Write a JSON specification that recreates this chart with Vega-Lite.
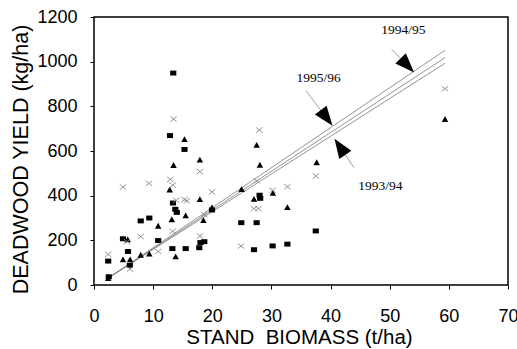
{
  "$schema": "https://vega.github.io/schema/vega-lite/v6.json",
  "autosize": "none",
  "padding": {"left": 94, "top": 17, "right": 9, "bottom": 64},
  "width": 414,
  "height": 268,
  "background": "white",
  "config": {
    "view": {"stroke": "black", "strokeWidth": 1.5},
    "axis": {"grid": false, "domain": false, "tickColor": "black", "labelColor": "black", "titleColor": "black", "labelFont": "Liberation Sans", "titleFont": "Liberation Sans", "titleFontWeight": "normal"}
  },
  "datasets": {
    "points": [
      {"season": "1993/94", "biomass": 2.4, "yield": 107},
      {"season": "1993/94", "biomass": 2.5, "yield": 37},
      {"season": "1993/94", "biomass": 4.9, "yield": 207},
      {"season": "1993/94", "biomass": 5.75, "yield": 150},
      {"season": "1993/94", "biomass": 6.05, "yield": 88},
      {"season": "1993/94", "biomass": 7.9, "yield": 287},
      {"season": "1993/94", "biomass": 9.35, "yield": 300},
      {"season": "1993/94", "biomass": 10.85, "yield": 199},
      {"season": "1993/94", "biomass": 13.4, "yield": 949},
      {"season": "1993/94", "biomass": 12.85, "yield": 669},
      {"season": "1993/94", "biomass": 15.3, "yield": 607},
      {"season": "1993/94", "biomass": 13.35, "yield": 367},
      {"season": "1993/94", "biomass": 13.75, "yield": 339},
      {"season": "1993/94", "biomass": 14.0, "yield": 325},
      {"season": "1993/94", "biomass": 13.25, "yield": 163},
      {"season": "1993/94", "biomass": 15.5, "yield": 163},
      {"season": "1993/94", "biomass": 17.8, "yield": 167},
      {"season": "1993/94", "biomass": 18.0, "yield": 190},
      {"season": "1993/94", "biomass": 18.65, "yield": 194},
      {"season": "1993/94", "biomass": 19.95, "yield": 336},
      {"season": "1993/94", "biomass": 24.9, "yield": 279},
      {"season": "1993/94", "biomass": 27.5, "yield": 279},
      {"season": "1993/94", "biomass": 27.05, "yield": 158},
      {"season": "1993/94", "biomass": 28.0, "yield": 402},
      {"season": "1993/94", "biomass": 28.1, "yield": 388},
      {"season": "1993/94", "biomass": 30.2, "yield": 175},
      {"season": "1993/94", "biomass": 32.7, "yield": 183},
      {"season": "1993/94", "biomass": 37.5, "yield": 242},
      {"season": "1994/95", "biomass": 2.4, "yield": 30},
      {"season": "1994/95", "biomass": 4.9, "yield": 113},
      {"season": "1994/95", "biomass": 5.7, "yield": 203},
      {"season": "1994/95", "biomass": 6.1, "yield": 113},
      {"season": "1994/95", "biomass": 7.9, "yield": 134},
      {"season": "1994/95", "biomass": 9.35, "yield": 139},
      {"season": "1994/95", "biomass": 10.85, "yield": 264},
      {"season": "1994/95", "biomass": 12.8, "yield": 426},
      {"season": "1994/95", "biomass": 13.45, "yield": 536},
      {"season": "1994/95", "biomass": 15.3, "yield": 652},
      {"season": "1994/95", "biomass": 13.15, "yield": 293},
      {"season": "1994/95", "biomass": 13.8, "yield": 127},
      {"season": "1994/95", "biomass": 15.5, "yield": 310},
      {"season": "1994/95", "biomass": 17.9, "yield": 560},
      {"season": "1994/95", "biomass": 17.9, "yield": 383},
      {"season": "1994/95", "biomass": 18.5, "yield": 289},
      {"season": "1994/95", "biomass": 19.95, "yield": 346},
      {"season": "1994/95", "biomass": 24.95, "yield": 428},
      {"season": "1994/95", "biomass": 27.5, "yield": 626},
      {"season": "1994/95", "biomass": 28.05, "yield": 537},
      {"season": "1994/95", "biomass": 27.05, "yield": 384},
      {"season": "1994/95", "biomass": 30.25, "yield": 411},
      {"season": "1994/95", "biomass": 32.7, "yield": 347},
      {"season": "1994/95", "biomass": 37.65, "yield": 548},
      {"season": "1994/95", "biomass": 59.35, "yield": 742},
      {"season": "1995/96", "biomass": 2.4, "yield": 137},
      {"season": "1995/96", "biomass": 4.9, "yield": 439},
      {"season": "1995/96", "biomass": 5.6, "yield": 194},
      {"season": "1995/96", "biomass": 6.1, "yield": 71},
      {"season": "1995/96", "biomass": 7.9, "yield": 217},
      {"season": "1995/96", "biomass": 9.3, "yield": 455},
      {"season": "1995/96", "biomass": 10.85, "yield": 150},
      {"season": "1995/96", "biomass": 13.45, "yield": 743},
      {"season": "1995/96", "biomass": 12.9, "yield": 473},
      {"season": "1995/96", "biomass": 13.3, "yield": 447},
      {"season": "1995/96", "biomass": 13.3, "yield": 240},
      {"season": "1995/96", "biomass": 13.9, "yield": 379},
      {"season": "1995/96", "biomass": 15.3, "yield": 382},
      {"season": "1995/96", "biomass": 15.7, "yield": 377},
      {"season": "1995/96", "biomass": 17.9, "yield": 508},
      {"season": "1995/96", "biomass": 17.9, "yield": 220},
      {"season": "1995/96", "biomass": 18.6, "yield": 316},
      {"season": "1995/96", "biomass": 19.95, "yield": 417},
      {"season": "1995/96", "biomass": 24.85, "yield": 174},
      {"season": "1995/96", "biomass": 27.05, "yield": 342},
      {"season": "1995/96", "biomass": 27.8, "yield": 342},
      {"season": "1995/96", "biomass": 27.5, "yield": 466},
      {"season": "1995/96", "biomass": 27.95, "yield": 694},
      {"season": "1995/96", "biomass": 30.2, "yield": 424},
      {"season": "1995/96", "biomass": 32.7, "yield": 440},
      {"season": "1995/96", "biomass": 37.5, "yield": 488},
      {"season": "1995/96", "biomass": 59.35, "yield": 879}
    ],
    "fits": [
      {"season": "1994/95", "biomass": 2.4, "yield": 31},
      {"season": "1994/95", "biomass": 59.35, "yield": 1051},
      {"season": "1995/96", "biomass": 2.4, "yield": 31},
      {"season": "1995/96", "biomass": 59.35, "yield": 1018},
      {"season": "1993/94", "biomass": 2.4, "yield": 31},
      {"season": "1993/94", "biomass": 59.35, "yield": 993}
    ],
    "arrows": [
      {"label": "1994/95", "fromX": 50.34, "fromY": 1055, "baseX": 51.81, "baseY": 1015, "headX": 52.98, "headY": 983, "textX": 52.3, "textY": 1140},
      {"label": "1995/96", "fromX": 35.85, "fromY": 869, "baseX": 38.32, "baseY": 783, "headX": 39.33, "headY": 748, "textX": 38.0, "textY": 928},
      {"label": "1993/94", "fromX": 43.96, "fromY": 525, "baseX": 42.53, "baseY": 582, "headX": 41.58, "headY": 619, "textX": 48.44, "textY": 445}
    ]
  },
  "layer": [
    {
      "data": {"name": "fits"},
      "mark": {"type": "line", "stroke": "#777777", "strokeWidth": 0.8},
      "encoding": {
        "x": {"field": "biomass", "type": "quantitative", "scale": {"domain": [0, 70], "nice": false, "zero": false},
          "axis": {"values": [0, 5, 10, 15, 20, 25, 30, 35, 40, 45, 50, 55, 60, 65, 70], "format": "d", "labelExpr": "datum.value % 10 == 0 ? datum.label : ''", "tickSize": 4, "labelPadding": 18, "labelDx": -5, "labelFontSize": 18, "labelBaseline": "top",
            "title": "STAND\u00a0 BIOMASS (t/ha)", "titleFontSize": 20.5, "titleX": 205, "titleY": 58, "titleBaseline": "alphabetic", "titleAnchor": "middle", "labelFlush": false, "labelOverlap": false}},
        "y": {"field": "yield", "type": "quantitative", "scale": {"domain": [0, 1200], "nice": false, "zero": false},
          "axis": {"values": [0, 200, 400, 600, 800, 1000, 1200], "format": "d", "tickSize": 4, "labelPadding": 13, "labelFontSize": 18, "labelFlush": false, "labelOverlap": false,
            "title": "DEADWOOD YIELD (kg/ha)", "titleFontSize": 21.5, "titleX": -67, "titleY": 142, "titleAngle": -90, "titleBaseline": "alphabetic", "titleAlign": "center"}},
        "detail": {"field": "season", "type": "nominal"}
      }
    },
    {
      "data": {"name": "points"},
      "transform": [{"filter": "datum.season == '1993/94'"}],
      "mark": {"type": "point", "shape": "M-1,-0.8H1V0.8H-1Z", "filled": true, "fill": "black", "size": 38, "opacity": 1},
      "encoding": {"x": {"field": "biomass", "type": "quantitative"}, "y": {"field": "yield", "type": "quantitative"}}
    },
    {
      "data": {"name": "points"},
      "transform": [{"filter": "datum.season == '1994/95'"}],
      "mark": {"type": "point", "shape": "M0,-1L1,0.8L-1,0.8Z", "filled": true, "fill": "black", "size": 42, "opacity": 1},
      "encoding": {"x": {"field": "biomass", "type": "quantitative"}, "y": {"field": "yield", "type": "quantitative"}}
    },
    {
      "data": {"name": "points"},
      "transform": [{"filter": "datum.season == '1995/96'"}],
      "mark": {"type": "point", "shape": "M-1,-0.8L1,0.8M1,-0.8L-1,0.8", "filled": false, "stroke": "#8a8a8a", "strokeWidth": 0.9, "size": 42, "opacity": 1},
      "encoding": {"x": {"field": "biomass", "type": "quantitative"}, "y": {"field": "yield", "type": "quantitative"}}
    },
    {
      "data": {"name": "arrows"},
      "mark": {"type": "rule", "stroke": "#888888", "strokeWidth": 0.8},
      "encoding": {
        "x": {"field": "fromX", "type": "quantitative"}, "y": {"field": "fromY", "type": "quantitative"},
        "x2": {"field": "baseX"}, "y2": {"field": "baseY"}
      }
    },
    {
      "data": {"name": "arrows"},
      "transform": [{"filter": "datum.label == '1994/95'"}],
      "mark": {"type": "point", "shape": "M0,-1L0.75,1L-0.75,1Z", "filled": true, "fill": "black", "size": 380, "opacity": 1, "angle": 136},
      "encoding": {"x": {"field": "headX", "type": "quantitative"}, "y": {"field": "headY", "type": "quantitative"}}
    },
    {
      "data": {"name": "arrows"},
      "transform": [{"filter": "datum.label == '1995/96'"}],
      "mark": {"type": "point", "shape": "M0,-1L0.75,1L-0.75,1Z", "filled": true, "fill": "black", "size": 380, "opacity": 1, "angle": 143},
      "encoding": {"x": {"field": "headX", "type": "quantitative"}, "y": {"field": "headY", "type": "quantitative"}}
    },
    {
      "data": {"name": "arrows"},
      "transform": [{"filter": "datum.label == '1993/94'"}],
      "mark": {"type": "point", "shape": "M0,-1L0.75,1L-0.75,1Z", "filled": true, "fill": "black", "size": 380, "opacity": 1, "angle": 326},
      "encoding": {"x": {"field": "headX", "type": "quantitative"}, "y": {"field": "headY", "type": "quantitative"}}
    },
    {
      "data": {"name": "arrows"},
      "mark": {"type": "text", "font": "Liberation Serif", "fontSize": 13.5, "color": "black", "align": "center", "baseline": "middle"},
      "encoding": {
        "x": {"field": "textX", "type": "quantitative"}, "y": {"field": "textY", "type": "quantitative"},
        "text": {"field": "label", "type": "nominal"}
      }
    }
  ]
}
